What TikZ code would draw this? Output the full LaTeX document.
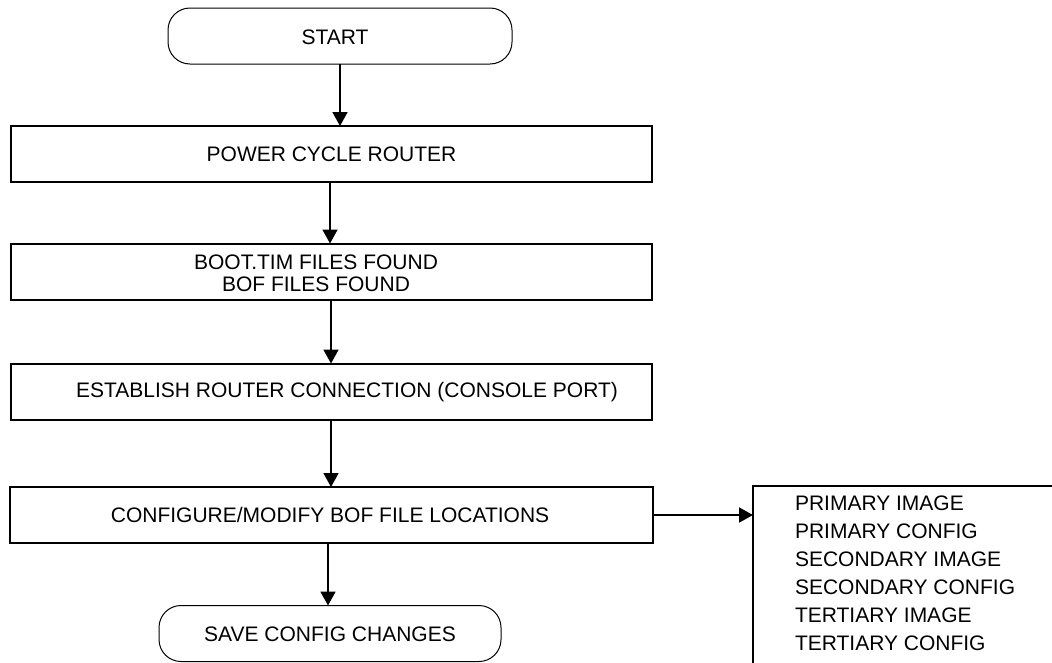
\documentclass[tikz,border=0pt]{standalone}
\usepackage{fontspec}
\setmainfont{Liberation Sans}
\usetikzlibrary{arrows.meta}
\begin{document}
\begin{tikzpicture}[x=1pt,y=-1pt,
  every node/.style={font=\fontsize{21}{22}\selectfont, inner sep=0pt, outer sep=0pt},
  stepbox/.style={draw, line width=2pt, minimum height=56pt, minimum width=641pt},
  termbox/.style={draw, line width=1pt, rounded corners=22pt, minimum height=56pt},
  arr/.style={line width=1.8pt, -{Triangle[length=14pt,width=15pt]}},
  lbl/.style={anchor=center, align=center}
]
\useasboundingbox (0,0) rectangle (1052,662);
\begin{scope}
\clip (0,0) rectangle (1052,662);
% terminals
\node[termbox, minimum width=344pt] (start) at (340,36) {};
\node[lbl] (starttxt) at (335,37) {START};
\node[termbox, minimum width=342pt] (save) at (330,633.5) {};
\node[lbl] (savetxt) at (330,634) {SAVE CONFIG CHANGES};
% process boxes
\node[stepbox] (p1) at (331.5,154) {};
\node[lbl] (p1txt) at (331.5,154) {POWER CYCLE ROUTER};
\node[stepbox] (p2) at (331,271.5) {};
\node[lbl, align=center] (p2txt) at (316,273.5) {BOOT.TIM FILES FOUND\\BOF FILES FOUND};
\node[stepbox] (p3) at (331.5,391.5) {};
\node[lbl] (p3txt) at (347,392) {ESTABLISH ROUTER CONNECTION (CONSOLE PORT)};
\node[stepbox, minimum width=643pt] (p4) at (331,515) {};
\node[lbl] (p4txt) at (330,515) {CONFIGURE/MODIFY BOF FILE LOCATIONS};
% options box (extends past the page edge)
\node[draw, line width=2pt, anchor=north west, minimum width=400pt, minimum height=220pt] (opts) at (753,486) {};
\node[anchor=north west, align=left, font=\fontsize{21}{28}\selectfont] (optstxt) at (795,495.5) {PRIMARY IMAGE\\PRIMARY CONFIG\\SECONDARY IMAGE\\SECONDARY CONFIG\\TERTIARY IMAGE\\TERTIARY CONFIG};
% connectors
\draw[arr] (start.south) -- (start.south |- p1.north);
\draw[arr] (p1.south -| 330,0) -- (p2.north -| 330,0);
\draw[arr] (p2.south -| 331,0) -- (p3.north -| 331,0);
\draw[arr] (p3.south -| 331,0) -- (p4.north -| 331,0);
\draw[arr] (p4.south -| 328,0) -- (save.north -| 328,0);
\draw[arr] (p4.east) -- (p4.east -| opts.west);
\end{scope}
\end{tikzpicture}
\end{document}
